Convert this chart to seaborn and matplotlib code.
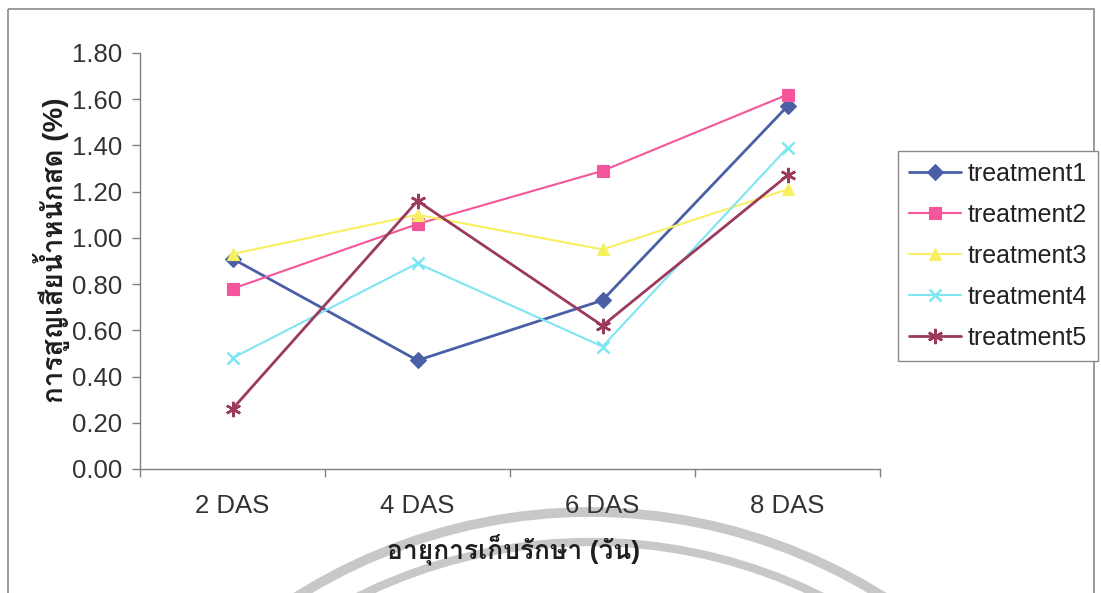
import numpy as np
import pandas as pd
import matplotlib
matplotlib.use("Agg")
import matplotlib.pyplot as plt
import seaborn as sns
from matplotlib import font_manager
from matplotlib.ft2font import FT2Font
from matplotlib.patches import Rectangle, Arc

# Fresh-weight loss (%) by storage day
days = ["2 DAS", "4 DAS", "6 DAS", "8 DAS"]
treatment_names = ["treatment1", "treatment2", "treatment3", "treatment4", "treatment5"]
treatment1 = [0.91, 0.47, 0.73, 1.57]
treatment2 = [0.78, 1.06, 1.29, 1.62]
treatment3 = [0.93, 1.10, 0.95, 1.21]
treatment4 = [0.48, 0.89, 0.53, 1.39]
treatment5 = [0.26, 1.16, 0.62, 1.27]
y_ticks = [0.0, 0.2, 0.4, 0.6, 0.8, 1.0, 1.2, 1.4, 1.6, 1.8]

series = [treatment1, treatment2, treatment3, treatment4, treatment5]
colors = ["#4a5fa6", "#f5559a", "#f7f060", "#7ee6f2", "#9a3a5c"]
markers = ["D", "s", "^", "x", (6, 2, 0)]
msizes = [8, 8, 9, 9, 11]
lwidths = [2.0, 1.5, 1.5, 1.5, 2.0]

df = pd.DataFrame({
    "day": np.tile(days, len(series)),
    "loss": np.concatenate(series),
    "treatment": np.repeat(treatment_names, len(days)),
})


def find_thai_family():
    for f in font_manager.fontManager.ttflist:
        try:
            cmap = FT2Font(f.fname).get_charmap()
        except Exception:
            continue
        if 0x0E01 in cmap and 0x0E2A in cmap and 0x0E19 in cmap:
            return f.name
    return None


sns.set_theme(style="white")
thai = find_thai_family()
families = ["Liberation Sans"] + ([thai] if thai else []) + ["DejaVu Sans"]
plt.rcParams["font.family"] = families

W, H = 1101, 593
fig = plt.figure(figsize=(W / 100, H / 100), dpi=100)
fig.patch.set_facecolor("white")

# page layer: outer chart frame and faint stamp arcs
bg = fig.add_axes([0, 0, 1, 1], zorder=-5)
bg.set_xlim(0, W)
bg.set_ylim(H, 0)
bg.axis("off")
bg.add_patch(Rectangle((8, 9), 1086, 600, fill=False, edgecolor="#8a8a8a", lw=1.2))
for r, lw in [(550, 7), (520, 6)]:
    bg.add_patch(Arc((590, 1062), 2 * r, 2 * r, theta1=180, theta2=360,
                     edgecolor="#c8c8c8", lw=lw))

ax = fig.add_axes([140 / W, 1 - 469 / H, 740 / W, 416 / H])
ax.set_facecolor("none")

sns.lineplot(data=df, x="day", y="loss", hue="treatment",
             palette=dict(zip(treatment_names, colors)),
             legend=False, ax=ax)

for line, c, m, ms, lw in zip(ax.lines, colors, markers, msizes, lwidths):
    line.set_color(c)
    line.set_linewidth(lw)
    line.set_marker(m)
    line.set_markersize(ms)
    line.set_markerfacecolor(c)
    line.set_markeredgecolor(c)
    line.set_markeredgewidth(1.8 if m in ("x", (6, 2, 0)) else 0.8)

ax.set_xlim(-0.5, 3.5)
ax.set_ylim(0, 1.8)
ax.set_yticks(y_ticks)
ax.set_yticklabels([f"{v:.2f}" for v in y_ticks], fontsize=18.5, color="#333333")
ax.set_xticks([-0.5, 0.5, 1.5, 2.5, 3.5])
ax.set_xticklabels([])
ax.set_xticks(range(len(days)), minor=True)
ax.set_xticklabels(days, minor=True, fontsize=18.5, color="#333333")
ax.tick_params(axis="x", which="major", direction="out", length=6, width=1, color="#808080", bottom=True)
ax.tick_params(axis="x", which="minor", length=0, pad=18)
ax.tick_params(axis="y", direction="out", length=6, width=1, color="#808080", left=True, pad=7)

for side in ["top", "right"]:
    ax.spines[side].set_visible(False)
for side in ["left", "bottom"]:
    ax.spines[side].set_color("#808080")
    ax.spines[side].set_linewidth(1.0)

ax.set_xlabel("")
ax.set_ylabel("")
fig.text(52 / W, 1 - 250 / H, "การสูญเสียน้ำหนักสด (%)", rotation=90,
         ha="center", va="center", fontsize=20, fontweight="bold", color="#1e1e1e")
fig.text(514 / W, 1 - 549 / H, "อายุการเก็บรักษา (วัน)",
         ha="center", va="center", fontsize=19, fontweight="bold", color="#1e1e1e")

leg = fig.legend(ax.lines[:5], treatment_names, loc="center",
                 bbox_to_anchor=(998 / W, 1 - 256 / H), fontsize=18,
                 frameon=True, fancybox=False, framealpha=1, edgecolor="#8a8a8a",
                 handlelength=2.1, handletextpad=0.25, labelspacing=0.68,
                 borderpad=0.45, borderaxespad=0)
leg.get_frame().set_linewidth(1.0)
for t in leg.get_texts():
    t.set_color("#222222")

fig.savefig("out.png", dpi=100, facecolor="white")
